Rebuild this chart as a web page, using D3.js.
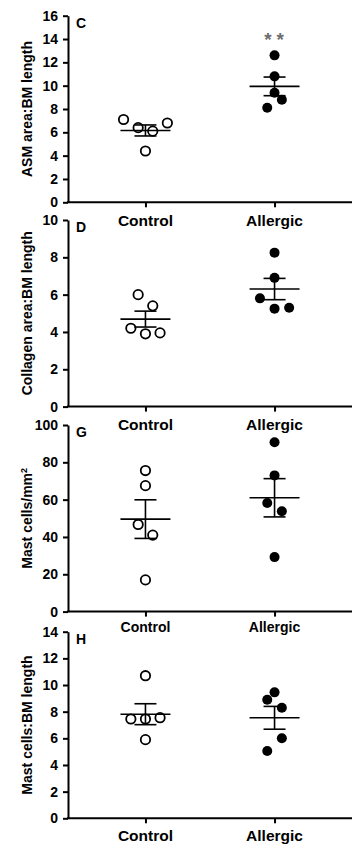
<!DOCTYPE html>
<html>
<head>
<meta charset="utf-8">
<script src="https://cdn.jsdelivr.net/npm/d3@7"></script>
<style>
  html, body { margin: 0; padding: 0; background: #fff; }
  svg { display: block; }
  text { font-family: "Liberation Sans", Arial, sans-serif; font-weight: bold; fill: #000; }
</style>
</head>
<body>
<svg id="chart" width="361" height="848"></svg>
<script>
// ---------- data ----------
const categories = ["Control", "Allergic"];

// Panel C: ASM area : BM length
const asmControl  = [7.1, 6.4, 6.1, 6.8, 4.4];
const asmAllergic = [12.6, 10.8, 9.4, 8.8, 8.1];
// Panel D: Collagen area : BM length
const collagenControl  = [6.0, 5.4, 4.2, 3.9, 3.95];
const collagenAllergic = [8.25, 6.9, 5.8, 5.25, 5.3];
// Panel G: Mast cells / mm²
const mastDensityControl  = [75.6, 67.5, 46.7, 41.0, 17.0];
const mastDensityAllergic = [90.8, 73.0, 58.2, 53.8, 29.2];
// Panel H: Mast cells : BM length
const mastBMControl  = [10.7, 7.45, 7.45, 7.55, 5.9];
const mastBMAllergic = [9.45, 8.9, 8.3, 6.0, 5.05];

// scatter arrangement of the dots inside each column (slot index)
const asmControlSlot       = [-3, -1, 1, 3, 0];
const asmAllergicSlot      = [0, 0, 0, 1, -1];
const collagenControlSlot  = [-1, 1, -2, 0, 2];
const collagenAllergicSlot = [0, 0, -2, 0, 2];
const mastDensityControlSlot  = [0, 0, -1, 1, 0];
const mastDensityAllergicSlot = [0, 0, -1, 1, 0];
const mastBMControlSlot  = [0, -2, 0, 2, 0];
const mastBMAllergicSlot = [0, -1, 1, 1, -1];

// axis ticks
const asmTicks      = [0, 2, 4, 6, 8, 10, 12, 14, 16];
const collagenTicks = [0, 2, 4, 6, 8, 10];
const densityTicks  = [0, 20, 40, 60, 80, 100];
const mastBMTicks   = [0, 2, 4, 6, 8, 10, 12, 14];

const panelLetters = ["C", "D", "G", "H"];
const yTitles = ["ASM area:BM length", "Collagen area:BM length", "Mast cells/mm", "Mast cells:BM length"];
const significance = [["", "**"], ["", ""], ["", ""], ["", ""]];

// ---------- layout ----------
const svg = d3.select("#chart");
const axisX = 68, axisRight = 352;
const panelTops = [15.7, 220, 425, 631.7];
const panelH = 186.6;
const catLabelOffset = [24, 23.5, 20.5, 23];
const catLabelSize = [15.5, 15.5, 14, 15.5];

const panels = [
  { ticks: asmTicks, groups: [asmControl, asmAllergic], slots: [asmControlSlot, asmAllergicSlot] },
  { ticks: collagenTicks, groups: [collagenControl, collagenAllergic], slots: [collagenControlSlot, collagenAllergicSlot] },
  { ticks: densityTicks, groups: [mastDensityControl, mastDensityAllergic], slots: [mastDensityControlSlot, mastDensityAllergicSlot] },
  { ticks: mastBMTicks, groups: [mastBMControl, mastBMAllergic], slots: [mastBMControlSlot, mastBMAllergicSlot] }
];

const x = d3.scalePoint().domain(categories).range([axisX, axisRight]).padding(0.6);
const jitter = d3.scaleLinear().domain([-1, 1]).range([-7.3, 7.3]);

panels.forEach((p, i) => {
  const top = panelTops[i], bottom = top + panelH;
  const y = d3.scaleLinear().domain([0, d3.max(p.ticks)]).range([bottom, top]);
  const g = svg.append("g");

  // y axis
  const ya = g.append("g").attr("transform", `translate(${axisX},0)`)
    .call(d3.axisLeft(y).tickValues(p.ticks).tickSize(5).tickSizeOuter(0).tickPadding(5));
  ya.select(".domain").attr("stroke", "#000").attr("stroke-width", 2);
  ya.selectAll(".tick line").attr("stroke", "#000").attr("stroke-width", 2);
  ya.selectAll(".tick text").style("font-size", "14px").style("font-weight", "bold")
    .style("font-family", '"Liberation Sans", Arial, sans-serif').attr("fill", "#000");

  // x axis
  const xa = g.append("g").attr("transform", `translate(0,${bottom})`)
    .call(d3.axisBottom(x).tickSize(5).tickSizeOuter(0).tickFormat(""));
  xa.select(".domain").attr("stroke", "#000").attr("stroke-width", 2)
    .attr("d", `M${axisX - 1},0H${axisRight}`);
  xa.selectAll(".tick line").attr("stroke", "#000").attr("stroke-width", 2);

  // category labels
  g.selectAll("text.cat").data(categories).join("text")
    .attr("class", "cat")
    .attr("x", d => x(d))
    .attr("y", bottom + catLabelOffset[i])
    .attr("text-anchor", "middle")
    .style("font-size", catLabelSize[i] + "px")
    .text(d => d);

  // panel letter
  g.append("text").attr("x", 76).attr("y", top + 12)
    .style("font-size", "14px").text(panelLetters[i]);

  // y title
  const t = g.append("text")
    .attr("transform", `translate(32,${(top + bottom) / 2}) rotate(-90)`)
    .attr("text-anchor", "middle")
    .style("font-size", "14px")
    .text(yTitles[i]);
  if (i === 2) t.append("tspan").attr("baseline-shift", "super").style("font-size", "9px").text("2");

  // groups
  p.groups.forEach((vals, gi) => {
    const cx = x(categories[gi]);
    const m = d3.mean(vals);
    const sem = d3.deviation(vals) / Math.sqrt(vals.length);
    const filled = gi === 1;

    const dots = g.append("g");
    dots.selectAll("circle").data(vals).join("circle")
      .attr("cx", (d, k) => cx + jitter(p.slots[gi][k]))
      .attr("cy", d => y(d))
      .attr("r", filled ? 5 : 4.7)
      .attr("fill", filled ? "#000" : "#fff")
      .attr("stroke", "#000")
      .attr("stroke-width", filled ? 0 : 1.8);

    const eb = g.append("g").attr("stroke", "#000").attr("stroke-width", 1.6);
    eb.append("line").attr("x1", cx).attr("x2", cx).attr("y1", y(m - sem)).attr("y2", y(m + sem));
    eb.append("line").attr("x1", cx - 11).attr("x2", cx + 11).attr("y1", y(m + sem)).attr("y2", y(m + sem));
    eb.append("line").attr("x1", cx - 11).attr("x2", cx + 11).attr("y1", y(m - sem)).attr("y2", y(m - sem));
    eb.append("line").attr("x1", cx - 25).attr("x2", cx + 25).attr("y1", y(m)).attr("y2", y(m));

    const sig = significance[i][gi];
    if (sig) {
      g.append("text").attr("x", cx + 2).attr("y", top + 30)
        .attr("text-anchor", "middle")
        .style("font-size", "19px").style("font-weight", "bold")
        .style("letter-spacing", "5px")
        .style("fill", "#6e6e6e")
        .text(sig);
    }
  });
});
</script>
</body>
</html>
